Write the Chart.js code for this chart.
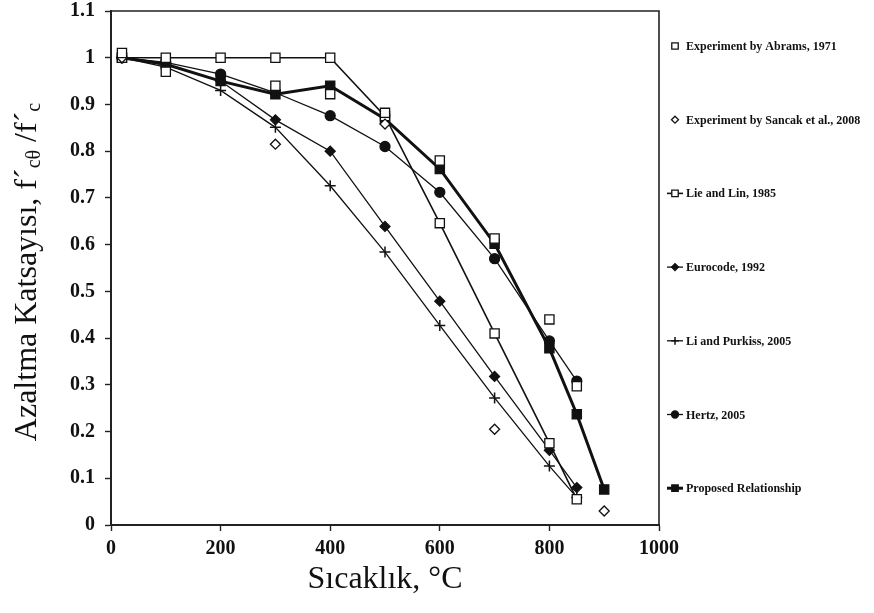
<!DOCTYPE html>
<html><head><meta charset="utf-8">
<script src="https://cdn.jsdelivr.net/npm/chart.js@4"></script>
<style>html,body{margin:0;padding:0;background:#fff}</style>
</head><body>
<canvas id="c" width="874" height="613"></canvas>
<script>
// ---- data ----
const abramsT   = [20, 100, 300, 400, 500, 600, 700, 800, 850];
const abramsV   = [1.01, 0.97, 0.94, 0.922, 0.882, 0.78, 0.613, 0.44, 0.297];
const sancakT   = [20, 300, 500, 700, 900];
const sancakV   = [1.0, 0.815, 0.858, 0.205, 0.03];
const lieT      = [20, 100, 200, 300, 400, 500, 600, 700, 800, 850];
const lieV      = [1.0, 1.0, 1.0, 1.0, 1.0, 0.875, 0.646, 0.41, 0.175, 0.055];
const euroT     = [20, 100, 200, 300, 400, 500, 600, 700, 800, 850];
const euroV     = [1.0, 0.985, 0.95, 0.867, 0.80, 0.639, 0.479, 0.318, 0.16, 0.08];
const liT       = [20, 100, 200, 300, 400, 500, 600, 700, 800, 850];
const liV       = [1.0, 0.98, 0.93, 0.851, 0.726, 0.584, 0.427, 0.272, 0.126, 0.059];
const hertzT    = [20, 100, 200, 300, 400, 500, 600, 700, 800, 850];
const hertzV    = [1.0, 0.99, 0.965, 0.925, 0.876, 0.81, 0.712, 0.57, 0.394, 0.308];
const propT     = [20, 100, 200, 300, 400, 500, 600, 700, 800, 850, 900];
const propV     = [1.0, 0.986, 0.95, 0.922, 0.94, 0.869, 0.762, 0.602, 0.378, 0.237, 0.076];
const seriesNames = ['Experiment by Abrams, 1971', 'Experiment by Sancak et al., 2008', 'Lie and Lin, 1985',
  'Eurocode, 1992', 'Li and Purkiss, 2005', 'Hertz, 2005', 'Proposed Relationship'];
const xTitle = 'Sıcaklık, °C';
const yTitleParts = [['Azaltma Katsayısı, f´', false], ['cθ', true], [' /f´', false], ['c', true]];

const pts = (t, v) => t.map((x, i) => ({x: x, y: v[i]}));
const INK = '#111';
const SERIF = '"Liberation Serif", "Times New Roman", serif';

function ds(label, t, v, style, opts) {
  return Object.assign({
    label: label, data: pts(t, v), showLine: true, borderColor: INK, borderWidth: 1.3,
    pointStyle: style, pointBorderColor: INK, pointBorderWidth: 1.3, pointBackgroundColor: INK,
    pointRadius: 5, pointHoverRadius: 5, tension: 0, clip: false
  }, opts || {});
}

const datasets = [
  ds(seriesNames[0], abramsT, abramsV, 'rect', {showLine: false, pointRadius: 6.5, pointBackgroundColor: '#fff'}),
  ds(seriesNames[1], sancakT, sancakV, 'rectRot', {showLine: false, pointRadius: 5, pointBackgroundColor: '#fff'}),
  ds(seriesNames[2], lieT, lieV, 'rect', {pointRadius: 6.5, pointBackgroundColor: '#fff', borderWidth: 1.6}),
  ds(seriesNames[3], euroT, euroV, 'rectRot', {pointRadius: 5}),
  ds(seriesNames[4], liT, liV, 'cross', {pointRadius: 5.5, pointBorderWidth: 1.5}),
  ds(seriesNames[5], hertzT, hertzV, 'circle', {pointRadius: 5}),
  ds(seriesNames[6], propT, propV, 'rect', {pointRadius: 6.5, borderWidth: 3})
];

const framePlugin = {
  id: 'frame',
  afterDraw(chart) {
    const {ctx, chartArea: a} = chart;
    ctx.save();
    ctx.strokeStyle = '#222'; ctx.lineWidth = 1.6;
    ctx.beginPath();
    ctx.moveTo(a.left, a.top); ctx.lineTo(a.right, a.top); ctx.lineTo(a.right, a.bottom);
    ctx.stroke();
    // y-axis title with subscripts
    ctx.translate(28, 272);
    ctx.rotate(-Math.PI / 2);
    ctx.fillStyle = INK;
    ctx.textBaseline = 'middle';
    const big = '32px ' + SERIF, small = '20px ' + SERIF;
    let total = 0;
    yTitleParts.forEach(([t, sub]) => { ctx.font = sub ? small : big; total += ctx.measureText(t).width; });
    let x = -total / 2;
    yTitleParts.forEach(([t, sub]) => {
      ctx.font = sub ? small : big;
      ctx.fillText(t, x, sub ? 7 : 0);
      x += ctx.measureText(t).width;
    });
    ctx.restore();
    // legend
    ctx.save();
    chart.data.datasets.forEach((d, i) => {
      const y = 46 + i * 73.7, mx = 675;
      ctx.strokeStyle = INK; ctx.fillStyle = INK;
      if (d.showLine) {
        ctx.lineWidth = d.borderWidth;
        ctx.beginPath(); ctx.moveTo(mx - 8, y); ctx.lineTo(mx + 8, y); ctx.stroke();
      }
      ctx.fillStyle = d.pointBackgroundColor; ctx.lineWidth = d.pointBorderWidth;
      Chart.helpers.drawPoint(ctx, {pointStyle: d.pointStyle, radius: d.pointRadius * 0.7, borderWidth: d.pointBorderWidth, rotation: 0}, mx, y);
      ctx.fillStyle = INK;
      ctx.font = 'bold 12px ' + SERIF;
      ctx.textBaseline = 'middle';
      ctx.fillText(d.label, 686, y + 1);
    });
    ctx.restore();
  }
};

new Chart(document.getElementById('c'), {
  type: 'scatter',
  data: {datasets: datasets},
  plugins: [framePlugin],
  options: {
    responsive: false, animation: false, devicePixelRatio: 1,
    layout: {padding: {top: 11, right: 215, bottom: 0, left: 0}},
    plugins: {legend: {display: false}, tooltip: {enabled: false}},
    scales: {
      x: {
        type: 'linear', min: 0, max: 1000,
        ticks: {stepSize: 200, color: INK, font: {family: SERIF, size: 20, weight: 'bold'}, padding: 6, maxRotation: 0,
          callback: v => String(v)},
        grid: {drawOnChartArea: false, color: '#222', tickLength: 6, tickWidth: 1.4},
        border: {color: '#222', width: 2},
        title: {display: true, text: xTitle, color: INK, font: {family: SERIF, size: 32}, padding: {top: 0, bottom: 14}},
        afterFit(s) { s.height = 88; s.paddingLeft = 0; s.paddingRight = 0; }
      },
      y: {
        type: 'linear', min: 0, max: 1.1,
        ticks: {stepSize: 0.1, color: INK, font: {family: SERIF, size: 20, weight: 'bold'}, padding: 10,
          callback: v => String(Math.round(v * 10) / 10)},
        grid: {drawOnChartArea: false, color: '#222', tickLength: 6, tickWidth: 1.4},
        border: {color: '#222', width: 2},
        afterFit(s) { s.width = 111; s.paddingTop = 0; s.paddingBottom = 0; }
      }
    }
  }
});
</script>
</body></html>
